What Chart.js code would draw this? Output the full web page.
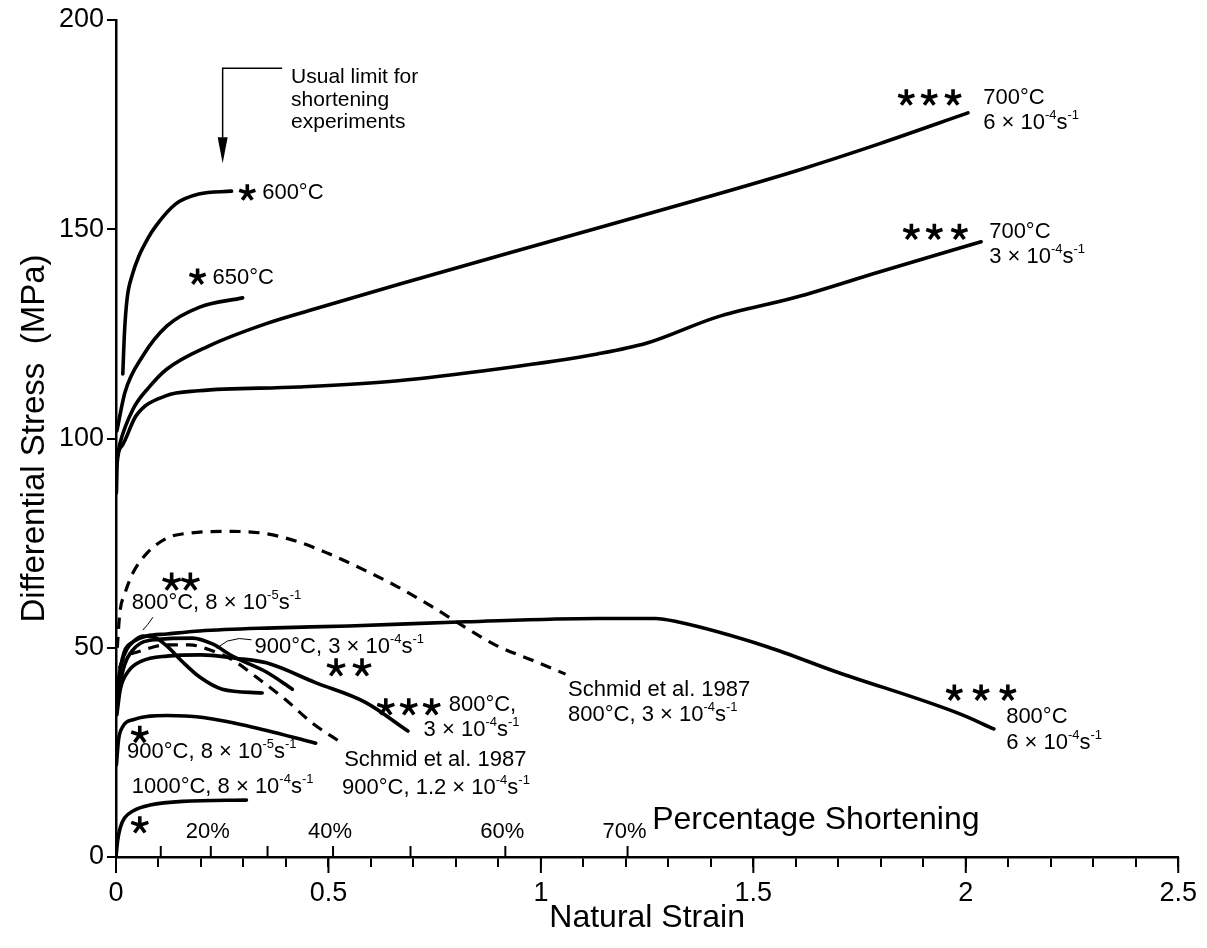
<!DOCTYPE html>
<html>
<head>
<meta charset="utf-8">
<script src="https://cdn.jsdelivr.net/npm/chart.js@4/dist/chart.umd.min.js"></script>
<style>
html,body{margin:0;padding:0;background:#fff;}
#wrap{width:1207px;height:948px;}
</style>
</head>
<body>
<div id="wrap"><canvas id="dataChart" width="1207" height="948"></canvas></div>
<script>
// natural strain (x) and differential stress in MPa (y)
const c600x = [0.016, 0.02, 0.026, 0.038, 0.054, 0.075, 0.094, 0.14, 0.195, 0.272];
const c600y = [115.4, 125.4, 133.3, 139, 143.6, 147.8, 150.8, 156, 158.4, 159.1];

const c650x = [0.002, 0.021, 0.063, 0.12, 0.197, 0.298];
const c650y = [101.8, 111, 119.7, 126.9, 131.4, 133.6];

const c700fastX = [0.002, 0.009, 0.04, 0.08, 0.12, 0.218, 0.352, 0.469, 0.664, 1.0, 1.367, 1.602, 1.796, 2.005];
const c700fastY = [95, 98.7, 107, 112.5, 116.6, 122.1, 127.4, 131, 136.8, 146.5, 157, 164, 170.4, 177.8];

const c700slowX = [0.001, 0.003, 0.014, 0.047, 0.117, 0.195, 0.429, 0.664, 0.898, 1.133, 1.25, 1.414, 1.602, 1.796, 2.036];
const c700slowY = [87, 94.4, 98.2, 105.4, 110.2, 111.4, 112.3, 113.8, 116.6, 120.2, 122.8, 129, 133.8, 139.8, 147];

const c800fastX = [0.002, 0.009, 0.04, 0.12, 0.197, 0.354, 0.548, 0.822, 1.133, 1.269, 1.321, 1.534, 1.691, 1.986, 2.066];
const c800fastY = [35, 44, 51.4, 53.3, 54, 54.7, 55.2, 56.2, 57, 57, 56.2, 50.2, 44.4, 34.2, 30.6];

const c800midX = [0.002, 0.01, 0.03, 0.06, 0.12, 0.2, 0.28, 0.354, 0.471, 0.586, 0.687];
const c800midY = [34, 40, 44.5, 46.8, 48, 48.3, 47.5, 46.4, 41.6, 37, 30.1];

const c800slowX = [0.002, 0.012, 0.026, 0.04, 0.063, 0.087, 0.12, 0.157, 0.197, 0.25, 0.344];
const c800slowY = [40, 46, 49.7, 51.4, 52.8, 52.6, 50.4, 46.6, 43, 40.1, 39.2];

const c900fastX = [0.002, 0.015, 0.04, 0.1, 0.18, 0.227, 0.274, 0.354, 0.415];
const c900fastY = [36, 44, 49.5, 52, 52.3, 50.9, 48, 44.2, 40.1];

const c900slowX = [0.001, 0.006, 0.015, 0.04, 0.12, 0.2, 0.31, 0.47];
const c900slowY = [22, 28, 31, 32.8, 33.8, 33.4, 31.3, 27.2];

const c1000x = [0, 0.004, 0.01, 0.02, 0.04, 0.08, 0.157, 0.307];
const c1000y = [0, 4, 7, 9.3, 11, 12.4, 13.3, 13.6];

// Schmid et al. 1987 (dashed)
const schmid800x = [0.003, 0.009, 0.021, 0.04, 0.073, 0.12, 0.173, 0.274, 0.35, 0.43, 0.5, 0.586, 0.664, 0.741, 0.82, 0.898, 0.98, 1.058];
const schmid800y = [50, 58.3, 63, 67.9, 72.6, 76.2, 77.4, 77.8, 77.3, 75.3, 72.5, 68.5, 64.5, 60, 55, 50.4, 47, 43.7];

const schmid900x = [0.003, 0.009, 0.04, 0.12, 0.173, 0.22, 0.274, 0.33, 0.4, 0.462, 0.532];
const schmid900y = [36, 45.4, 48.7, 50.7, 50.7, 49.5, 47.1, 43, 37.5, 32, 27.2];

// axes
const stressTicks = [0, 50, 100, 150, 200];
const strainLabels = [0, 0.5, 1, 1.5, 2, 2.5];
const pctTicks = [10, 20, 30, 40, 50, 60, 70];
const pctLabels = [20, 40, 60, 70];

const FONT = "'Liberation Sans', Arial, Helvetica, sans-serif";

const curves = [
    [c600x, c600y, false], [c650x, c650y, false],
    [c700fastX, c700fastY, false], [c700slowX, c700slowY, false],
    [c800fastX, c800fastY, false], [c800midX, c800midY, false], [c800slowX, c800slowY, false],
    [c900fastX, c900fastY, false], [c900slowX, c900slowY, false], [c1000x, c1000y, false],
    [schmid800x, schmid800y, true], [schmid900x, schmid900y, true]
];

let dataSets = curves.map(([xs, ys, dashed]) => ({
    data: xs.map((v, i) => ({x: v, y: ys[i]})),
    showLine: true,
    borderColor: "#000",
    borderWidth: dashed ? 3.2 : 3.6,
    borderDash: dashed ? [11, 8] : [],
    borderCapStyle: dashed ? "butt" : "round",
    pointRadius: 0,
    cubicInterpolationMode: "monotone",
    fill: false
}));

// text notes, placed in data coordinates; ^{..} is a superscript
const notes = [
    {x: 0.412, y: 186.4, t: "Usual limit for", s: 21},
    {x: 0.412, y: 180.9, t: "shortening", s: 21},
    {x: 0.412, y: 175.6, t: "experiments", s: 21},
    {x: 0.344, y: 158.7, t: "600°C", s: 22},
    {x: 0.227, y: 138.4, t: "650°C", s: 22},
    {x: 2.041, y: 181.4, t: "700°C", s: 22},
    {x: 2.041, y: 175.4, t: "6 × 10^{-4}s^{-1}", s: 22},
    {x: 2.055, y: 149.3, t: "700°C", s: 22},
    {x: 2.055, y: 143.4, t: "3 × 10^{-4}s^{-1}", s: 22},
    {x: 0.037, y: 60.7, t: "800°C, 8 × 10^{-5}s^{-1}", s: 22},
    {x: 0.326, y: 50.2, t: "900°C, 3 × 10^{-4}s^{-1}", s: 22},
    {x: 0.783, y: 36.3, t: "800°C,", s: 22},
    {x: 0.724, y: 30.3, t: "3 × 10^{-4}s^{-1}", s: 22},
    {x: 0.026, y: 25.1, t: "900°C, 8 × 10^{-5}s^{-1}", s: 22},
    {x: 0.537, y: 23.2, t: "Schmid et al. 1987", s: 22},
    {x: 0.532, y: 16.5, t: "900°C, 1.2 × 10^{-4}s^{-1}", s: 22},
    {x: 0.037, y: 16.7, t: "1000°C, 8 × 10^{-4}s^{-1}", s: 22},
    {x: 1.064, y: 39.9, t: "Schmid et al. 1987", s: 22},
    {x: 1.064, y: 33.9, t: "800°C, 3 × 10^{-4}s^{-1}", s: 22},
    {x: 2.095, y: 33.5, t: "800°C", s: 22},
    {x: 2.095, y: 27.2, t: "6 × 10^{-4}s^{-1}", s: 22},
    {x: 1.262, y: 8.8, t: "Percentage Shortening", s: 32}
];

const starMarks = [
    {x: [0.309], y: 158.7, r: 8.5}, {x: [0.192], y: 138.6, r: 8.5},
    {x: [1.860, 1.914, 1.970], y: 181.4, r: 8.5}, {x: [1.872, 1.926, 1.985], y: 149.3, r: 8.5},
    {x: [0.131, 0.175], y: 65.7, r: 9.5}, {x: [0.518, 0.579], y: 45.2, r: 9.5},
    {x: [0.635, 0.689, 0.743], y: 35.8, r: 9}, {x: [0.056], y: 29.2, r: 9},
    {x: [0.056], y: 7.6, r: 9}, {x: [1.973, 2.036, 2.099], y: 39.2, r: 8.5}
];

const leaders = [
    [[0.087, 57.3], [0.075, 55.6], [0.063, 54.2]],
    [[0.319, 51.9], [0.29, 52.2], [0.262, 51.6], [0.237, 49.9]]
];

function drawStar(ctx, cx, cy, r){
    ctx.beginPath();
    for(let k=0;k<5;k++){
        let a = -Math.PI/2 + k*2*Math.PI/5;
        ctx.moveTo(cx, cy);
        ctx.lineTo(cx + r*Math.cos(a), cy + r*Math.sin(a));
    }
    ctx.stroke();
}

function richText(ctx, x, y, str, size){
    let parts = str.split(/(\^\{[^}]*\})/);
    let cx = x;
    for(let p of parts){
        if(!p) continue;
        if(p.startsWith("^{")){
            let t = p.slice(2, -1);
            ctx.font = Math.round(size*0.6) + "px " + FONT;
            ctx.fillText(t, cx, y - size*0.36);
            cx += ctx.measureText(t).width;
        } else {
            ctx.font = size + "px " + FONT;
            ctx.fillText(p, cx, y);
            cx += ctx.measureText(p).width;
        }
    }
}

const annotations = {
    id: "annotations",
    afterDraw(chart){
        let ctx = chart.ctx;
        let xs = chart.scales.x, ys = chart.scales.y;
        let X = v => xs.getPixelForValue(v), Y = v => ys.getPixelForValue(v);
        let y0 = Y(0);
        ctx.save();
        ctx.strokeStyle = "#000";
        ctx.fillStyle = "#000";

        // longer ticks at the labelled strains
        ctx.lineWidth = 2;
        for(let v of strainLabels){
            ctx.beginPath();
            ctx.moveTo(X(v), y0);
            ctx.lineTo(X(v), y0 + 16);
            ctx.stroke();
        }
        // percentage shortening scale above the axis
        for(let p of pctTicks){
            let px = X(-Math.log(1 - p/100));
            ctx.beginPath();
            ctx.moveTo(px, y0);
            ctx.lineTo(px, y0 - 11);
            ctx.stroke();
        }
        ctx.textAlign = "center";
        ctx.textBaseline = "middle";
        ctx.font = "22px " + FONT;
        for(let p of pctLabels){
            ctx.fillText(p + "%", X(-Math.log(1 - p/100)) - 3, y0 - 25);
        }

        // arrow for the usual shortening limit
        ctx.lineWidth = 1.5;
        ctx.beginPath();
        ctx.moveTo(X(0.391), Y(188.5));
        ctx.lineTo(X(0.251), Y(188.5));
        ctx.lineTo(X(0.251), Y(172));
        ctx.stroke();
        ctx.beginPath();
        ctx.moveTo(X(0.251) - 5, Y(172));
        ctx.lineTo(X(0.251) + 5, Y(172));
        ctx.lineTo(X(0.251), Y(165.8));
        ctx.closePath();
        ctx.fill();

        // thin leader lines
        ctx.lineWidth = 1;
        for(let l of leaders){
            ctx.beginPath();
            l.forEach((pt, i) => i ? ctx.lineTo(X(pt[0]), Y(pt[1])) : ctx.moveTo(X(pt[0]), Y(pt[1])));
            ctx.stroke();
        }

        // stars
        ctx.lineWidth = 3.6;
        ctx.lineCap = "butt";
        for(let s of starMarks){
            for(let sx of s.x) drawStar(ctx, X(sx), Y(s.y), s.r);
        }

        // labels
        ctx.textAlign = "left";
        ctx.textBaseline = "middle";
        for(let n of notes){
            richText(ctx, X(n.x), Y(n.y), n.t, n.s);
        }
        ctx.restore();
    }
};

let ctx = document.getElementById("dataChart").getContext("2d");
let chart = new Chart(ctx, {
    type: "scatter",
    data: {datasets: dataSets},
    options: {
        responsive: false,
        animation: false,
        devicePixelRatio: 1,
        layout: {padding: {top: 20, right: 24, bottom: 0, left: 0}},
        plugins: {legend: {display: false}, tooltip: {enabled: false}},
        scales: {
            x: {
                type: "linear",
                min: 0,
                max: 2.5,
                ticks: {
                    stepSize: 0.1,
                    autoSkip: false,
                    maxRotation: 0,
                    color: "#000",
                    padding: 10,
                    font: {family: FONT, size: 27},
                    callback: v => {
                        let r = Math.round(v*10)/10;
                        return strainLabels.includes(r) ? String(r) : "";
                    }
                },
                grid: {drawOnChartArea: false, drawTicks: true, tickLength: 10, color: "#000", lineWidth: 2},
                border: {display: true, color: "#000", width: 2.5},
                title: {display: true, text: "Natural Strain", color: "#000",
                    font: {family: FONT, size: 32}, padding: {top: 0, bottom: 11}},
                afterFit: s => { s.height = 91; }
            },
            y: {
                type: "linear",
                min: 0,
                max: 200,
                afterBuildTicks: s => { s.ticks = stressTicks.map(v => ({value: v})); },
                ticks: {color: "#000", padding: 3, font: {family: FONT, size: 27}},
                grid: {drawOnChartArea: false, drawTicks: true, tickLength: 9, color: "#000", lineWidth: 2},
                border: {display: true, color: "#000", width: 2.5},
                title: {display: true, text: "Differential Stress  (MPa)", color: "#000",
                    font: {family: FONT, size: 33}, padding: {top: 15, bottom: 0}},
                afterFit: s => { s.width = 116; }
            }
        }
    },
    plugins: [annotations]
});
</script>
</body>
</html>
